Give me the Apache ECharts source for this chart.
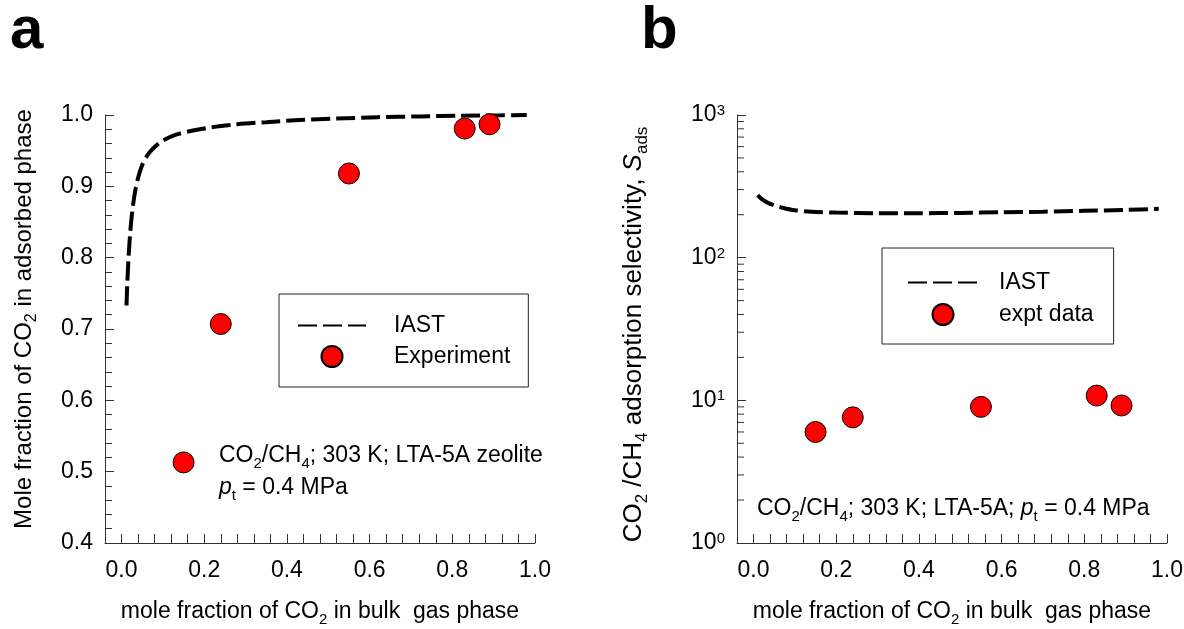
<!DOCTYPE html>
<html>
<head>
<meta charset="utf-8">
<script src="https://cdn.jsdelivr.net/npm/echarts@6/dist/echarts.min.js"></script>
<style>
  html, body { margin: 0; padding: 0; background: #fff; }
  #chart { width: 1184px; height: 629px; }
</style>
</head>
<body>
<div id="chart"></div>
<script>
  // panel a: mole fraction of CO2 in adsorbed phase
  var iastA_x = [0.012, 0.014, 0.017, 0.021, 0.026, 0.032, 0.04, 0.05, 0.062, 0.078, 0.1, 0.13, 0.17, 0.22, 0.28, 0.35, 0.43, 0.52, 0.62, 0.72, 0.82, 0.92, 0.98]
  var iastA_y = [0.733, 0.765, 0.80, 0.835, 0.865, 0.89, 0.912, 0.93, 0.943, 0.954, 0.964, 0.972, 0.978, 0.983, 0.987, 0.99, 0.993, 0.995, 0.997, 0.998, 0.999, 0.9995, 1.0]
  var exptX = [0.15, 0.24, 0.55, 0.83, 0.89]
  var exptA_y = [0.513, 0.707, 0.918, 0.981, 0.987]

  // panel b: CO2/CH4 adsorption selectivity
  var iastB_x = [0.01, 0.02, 0.035, 0.05, 0.07, 0.1, 0.14, 0.2, 0.3, 0.4, 0.5, 0.6, 0.7, 0.8, 0.9, 0.98]
  var iastB_y = [274, 257, 242, 233, 224, 215, 210, 207, 205, 205, 206, 208, 210, 213, 216, 220]
  var exptB_y = [6.0, 7.6, 9.0, 10.8, 9.2]

  var logMinorTicks = [2, 3, 4, 5, 6, 7, 8, 9, 20, 30, 40, 50, 60, 70, 80, 90, 200, 300, 400, 500, 600, 700, 800, 900]

  var X_MIN = -0.04
  var FONT = 'Liberation Sans, Arial, sans-serif'
  var AXIS = '#333'
  var FS = 23
  var SUB = 15

  function zip(xs, ys) {
    return xs.map(function (x, i) { return [x, ys[i]] })
  }

  function makeRich(fs, sub) {
    return {
      n: { fontSize: fs, fontFamily: FONT, color: '#000' },
      s: { fontSize: sub, fontFamily: FONT, color: '#000', verticalAlign: 'bottom', padding: [0, 0, -4, 0] },
      i: { fontSize: fs, fontFamily: FONT, color: '#000', fontStyle: 'italic' },
      b: { fontSize: fs, fontFamily: FONT, color: '#000' },
      p: { fontSize: sub, fontFamily: FONT, color: '#000', verticalAlign: 'top', lineHeight: 12 }
    }
  }
  var rich = makeRich(FS, SUB)

  function xAxisCfg(grid) {
    return {
      type: 'value',
      gridIndex: grid,
      min: X_MIN,
      max: 1.0,
      interval: 0.04,
      name: '{n|mole fraction of CO}{s|2}{n| in bulk  gas phase}',
      nameLocation: 'middle',
      nameGap: 57,
      nameTextStyle: { rich: rich },
      axisLine: { onZero: false, lineStyle: { color: AXIS, width: 1 } },
      axisTick: { inside: true, length: 9, lineStyle: { color: AXIS } },
      axisLabel: {
        margin: 16,
        fontSize: FS,
        fontFamily: FONT,
        color: '#000',
        formatter: function (v) {
          return Math.abs(v * 5 - Math.round(v * 5)) < 1e-6 ? v.toFixed(1) : ''
        }
      },
      splitLine: { show: false }
    }
  }

  var option = {
    animation: false,
    backgroundColor: '#fff',
    grid: [
      { left: 105, top: 115, width: 430, height: 428, outerBoundsMode: 'none' },
      { left: 737, top: 115, width: 430, height: 428, outerBoundsMode: 'none' }
    ],
    xAxis: [xAxisCfg(0), xAxisCfg(1)],
    yAxis: [
      {
        type: 'value',
        gridIndex: 0,
        min: 0.4,
        max: 1.0,
        interval: 0.1,
        name: '{n|Mole fraction of CO}{s|2}{n| in adsorbed phase}',
        nameLocation: 'middle',
        nameRotate: 90,
        nameGap: 69,
        nameTextStyle: { rich: makeRich(24, 16), padding: [0, 0, 0, 20] },
        axisLine: { show: true, onZero: false, lineStyle: { color: AXIS, width: 1 } },
        axisTick: { show: true, inside: true, length: 9, lineStyle: { color: AXIS } },
        minorTick: { show: true, splitNumber: 5, length: 7, lineStyle: { color: AXIS } },
        axisLabel: {
          margin: 12,
          fontSize: FS,
          fontFamily: FONT,
          color: '#000',
          formatter: function (v) { return v.toFixed(1) }
        },
        splitLine: { show: false }
      },
      {
        type: 'log',
        gridIndex: 1,
        logBase: 10,
        min: 1,
        max: 1000,
        name: '{n|CO}{s|2}{n| /CH}{s|4}{n| adsorption selectivity, }{i|S}{s|ads}',
        nameLocation: 'middle',
        nameRotate: 90,
        nameGap: 90,
        nameTextStyle: { rich: makeRich(26, 17), padding: [0, 11, 0, 0] },
        axisLine: { show: true, onZero: false, lineStyle: { color: AXIS, width: 1 } },
        axisTick: { show: true, inside: true, length: 9, lineStyle: { color: AXIS } },
        axisLabel: {
          margin: 12,
          color: '#000',
          rich: rich,
          formatter: function (v) {
            return '{b|10}{p|' + Math.round(Math.log10(v)) + '}'
          }
        },
        splitLine: { show: false }
      }
    ],
    legend: [
      {
        orient: 'vertical',
        left: 279,
        top: 294,
        padding: [20, 18, 19, 18],
        itemGap: 8,
        itemWidth: 68,
        itemHeight: 21,
        borderColor: '#222',
        borderWidth: 1,
        selectedMode: false,
        textStyle: { fontSize: FS, fontFamily: FONT, color: '#000', padding: [0, 0, 0, 23] },
        data: [
          { name: 'IAST', itemStyle: { color: 'rgba(0,0,0,0)', borderWidth: 0, opacity: 0 } },
          'Experiment'
        ]
      },
      {
        orient: 'vertical',
        left: 882,
        top: 248,
        padding: [23, 20, 18, 25],
        itemGap: 9,
        itemWidth: 70,
        itemHeight: 21,
        borderColor: '#222',
        borderWidth: 1,
        selectedMode: false,
        textStyle: { fontSize: FS, fontFamily: FONT, color: '#000', padding: [0, 0, 0, 16] },
        data: [
          { name: 'IAST', itemStyle: { color: 'rgba(0,0,0,0)', borderWidth: 0, opacity: 0 } },
          'expt data'
        ]
      }
    ],
    graphic: [
      { type: 'text', x: 10, y: 31, style: { text: 'a', fontSize: 60, fontWeight: 'bold', fontFamily: FONT, fill: '#000', verticalAlign: 'middle' } },
      { type: 'text', x: 641, y: 31, style: { text: 'b', fontSize: 60, fontWeight: 'bold', fontFamily: FONT, fill: '#000', verticalAlign: 'middle' } },
      { type: 'text', x: 219, y: 456, style: { text: '{n|CO}{s|2}{n|/CH}{s|4}{n|; 303 K; LTA-5A zeolite}', rich: rich, verticalAlign: 'middle' } },
      { type: 'text', x: 219, y: 488, style: { text: '{i|p}{s|t}{n| = 0.4 MPa}', rich: rich, verticalAlign: 'middle' } },
      { type: 'text', x: 757, y: 509, style: { text: '{n|CO}{s|2}{n|/CH}{s|4}{n|; 303 K; LTA-5A; }{i|p}{s|t}{n| = 0.4 MPa}', rich: rich, verticalAlign: 'middle' } }
    ],
    series: [
      {
        name: 'IAST',
        type: 'line',
        xAxisIndex: 0,
        yAxisIndex: 0,
        data: zip(iastA_x, iastA_y),
        smooth: 0.3,
        symbol: 'none',
        lineStyle: { color: '#000', width: 4, type: [19, 6] },
        itemStyle: { color: '#000' },
        z: 3
      },
      {
        name: 'Experiment',
        type: 'scatter',
        xAxisIndex: 0,
        yAxisIndex: 0,
        data: zip(exptX, exptA_y),
        symbol: 'circle',
        symbolSize: 21,
        itemStyle: { color: '#ff0000', borderColor: '#000', borderWidth: 1, opacity: 1 },
        z: 4
      },
      {
        name: 'IAST',
        type: 'line',
        xAxisIndex: 1,
        yAxisIndex: 1,
        data: zip(iastB_x, iastB_y),
        smooth: 0.3,
        symbol: 'none',
        lineStyle: { color: '#000', width: 4, type: [19, 6] },
        itemStyle: { color: '#000' },
        z: 3
      },
      {
        name: 'expt data',
        type: 'scatter',
        xAxisIndex: 1,
        yAxisIndex: 1,
        data: zip(exptX, exptB_y),
        symbol: 'circle',
        symbolSize: 21,
        itemStyle: { color: '#ff0000', borderColor: '#000', borderWidth: 1, opacity: 1 },
        z: 4
      },
      {
        // log-scale minor ticks (2..9 per decade), drawn on the y axis of panel b
        name: 'minor',
        type: 'custom',
        xAxisIndex: 1,
        yAxisIndex: 1,
        silent: true,
        data: logMinorTicks.map(function (v) { return [X_MIN, v] }),
        renderItem: function (params, api) {
          var p = api.coord([api.value(0), api.value(1)])
          return {
            type: 'line',
            shape: { x1: p[0], y1: p[1], x2: p[0] + 7, y2: p[1] },
            style: { stroke: AXIS, lineWidth: 1 }
          }
        },
        z: 2
      }
    ]
  }

  var chart = echarts.init(document.getElementById('chart'))
  chart.setOption(option)
</script>
</body>
</html>
